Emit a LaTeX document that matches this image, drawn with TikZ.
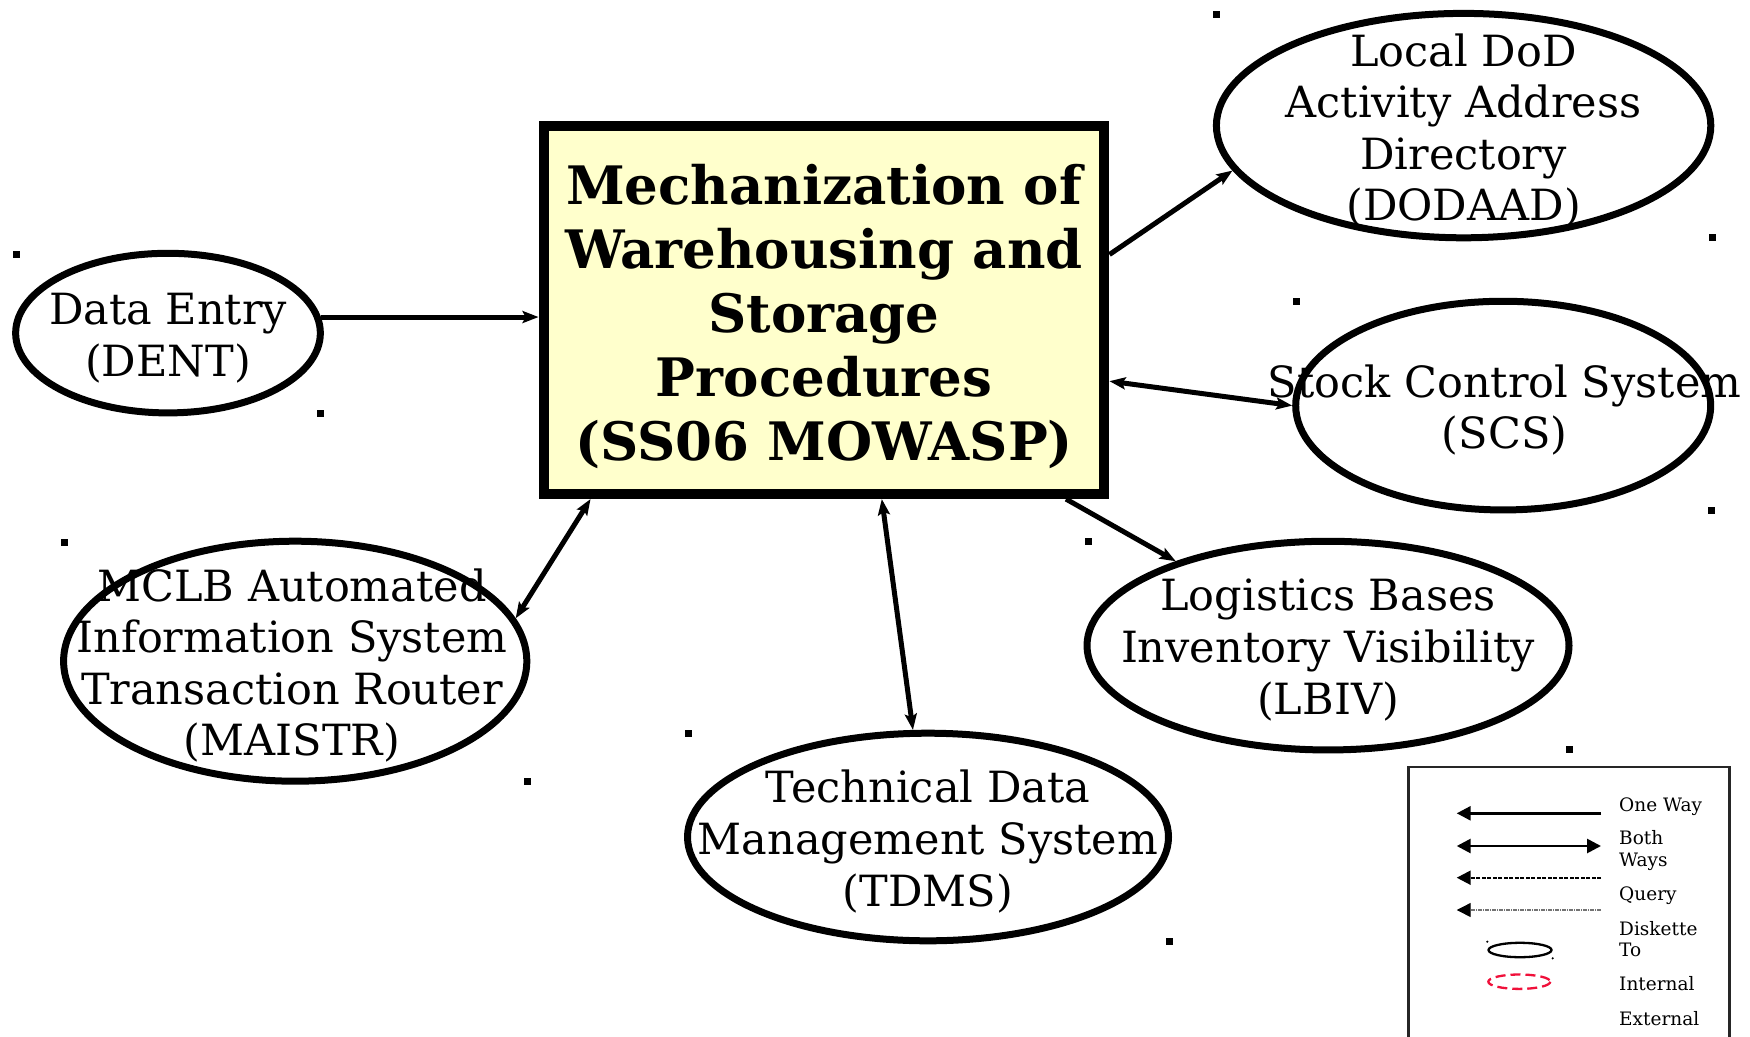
\documentclass[tikz,border=0pt]{standalone}
\usepackage{fontspec}
\setmainfont{DejaVu Serif}
\usetikzlibrary{arrows.meta,shapes.geometric}
\definecolor{boxfill}{HTML}{FFFFCC}
\definecolor{legred}{HTML}{F0103A}
\tikzset{
  systip/.tip={Stealth[length=16pt,width=12pt,inset=3pt]},
  legtip/.tip={Triangle[length=14pt,width=14pt]}
}
\begin{document}
\begin{tikzpicture}[x=1pt,y=-1pt,
  sys/.style={ellipse, draw, line width=7pt, inner sep=0pt},
  lbl/.style={align=center, inner sep=0pt, font=\fontsize{43}{51.6}\selectfont},
  mainbox/.style={rectangle, draw, line width=10.5pt, fill=boxfill, inner sep=0pt},
  maintxt/.style={align=center, inner sep=0pt, font=\bfseries\fontsize{53}{64}\selectfont},
  oneway/.style={line width=5pt, -{systip}},
  bothway/.style={line width=5pt, {systip}-{systip}},
  legtext/.style={anchor=base west, inner sep=0pt, font=\fontsize{18.5}{22.7}\selectfont},
  marker/.style={fill=black}
]
\useasboundingbox (0,0) rectangle (1750,1036);

% main box
\node[mainbox, minimum width=560.4pt, minimum height=367.6pt] (main) at (824,310) {};
\node[maintxt] (maint) at (824,316) {Mechanization of\\Warehousing and\\Storage\\Procedures\\(SS06 MOWASP)};

% systems
\node[sys, minimum width=494.4pt, minimum height=224.4pt] (dodaad) at (1463.6,125.6) {};
\node[lbl] (dodaadt) at (1463.6,130.5) {Local DoD\\Activity Address\\Directory\\(DODAAD)};

\node[sys, minimum width=304.7pt, minimum height=159.6pt] (dent) at (168,333.1) {};
\node[lbl] (dentt) at (168,338) {Data Entry\\(DENT)};

\node[sys, minimum width=415pt, minimum height=208.7pt] (scs) at (1503.2,405.6) {};
\node[lbl] (scst) at (1504.6,410) {Stock Control System\\(SCS)};

\node[sys, minimum width=463.2pt, minimum height=240pt] (maistr) at (295.2,661.2) {};
\node[lbl] (maistrt) at (292,665.5) {MCLB Automated\\Information System\\Transaction Router\\(MAISTR)};

\node[sys, minimum width=482pt, minimum height=208.7pt] (lbiv) at (1328,645.6) {};
\node[lbl] (lbivt) at (1328,650) {Logistics Bases\\Inventory Visibility\\(LBIV)};

\node[sys, minimum width=481pt, minimum height=207.6pt] (tdms) at (928,837) {};
\node[lbl] (tdmst) at (928,841.5) {Technical Data\\Management System\\(TDMS)};

% connectors
\draw[oneway] (dent.6) -- (dent.6 -| main.west);
\draw[oneway] (main.11.8) -- (dodaad.191.8);
\draw[bothway] (main.-14.5) -- (scs.180.3);
\draw[oneway] (main.-38.15) -- (lbiv.151.2);
\draw[bothway] (main.-73.05) -- (tdms.98.7);
\draw[bothway] (main.219.1) -- (maistr.11.45);

% bounding-box corner markers
\foreach \px/\py in {1216.4/14, 1712/237.7, 16/254, 320.4/413.7, 1296.7/301.7, 1711/510,
                     64/542.7, 527.3/781.7, 1088.3/541.7, 1569.3/749.3, 688.3/733.3, 1169.3/941.7}
  \fill[marker] (\px-3.5,\py-3.5) rectangle (\px+3.5,\py+3.5);

% legend
\node[draw=black!85, line width=2.7pt, anchor=north west, minimum width=321pt, minimum height=300pt, inner sep=0pt] (legend) at (1407.3,765.7) {};
\coordinate (l1a) at (1601,813.3); \coordinate (l1b) at (1456.7,813.3);
\coordinate (l2a) at (1601,846);   \coordinate (l2b) at (1456.7,846);
\coordinate (l3a) at (1601,877.7); \coordinate (l3b) at (1456.7,877.7);
\coordinate (l4a) at (1601,910);   \coordinate (l4b) at (1456.7,910);
\draw[line width=2.7pt, -{legtip}] (l1a) -- (l1b);
\draw[line width=2.7pt, {legtip}-{legtip}] (l2b) -- (l2a);
\draw[line width=2.3pt, dash pattern=on 4pt off 1.5pt, -{legtip}] (l3a) -- (l3b);
\draw[line width=1.3pt, draw=black!55, dash pattern=on 4pt off 1pt on 1pt off 1pt, -{Triangle[length=14pt,width=14pt,color=black]}] (l4a) -- (l4b);
\draw[line width=2.3pt] (1520,950) ellipse [x radius=31.5, y radius=7.2];
\fill (1487.3,941.7) circle [radius=1.2];
\fill (1552.7,958.3) circle [radius=1.2];
\draw[line width=2.3pt, draw=legred, dash pattern=on 10pt off 5pt] (1519.3,981.7) ellipse [x radius=31, y radius=7.2];

\node[legtext] (t1) at (1619,811) {One Way};
\node[legtext] (t2) at (1619,844) {Both};
\node[legtext] (t3) at (1619,866.7) {Ways};
\node[legtext] (t4) at (1619,900.7) {Query};
\node[legtext] (t5) at (1619,935) {Diskette};
\node[legtext] (t6) at (1619,956.7) {To};
\node[legtext] (t7) at (1619,990.7) {Internal};
\node[legtext] (t8) at (1619,1025) {External};
\end{tikzpicture}
\end{document}
